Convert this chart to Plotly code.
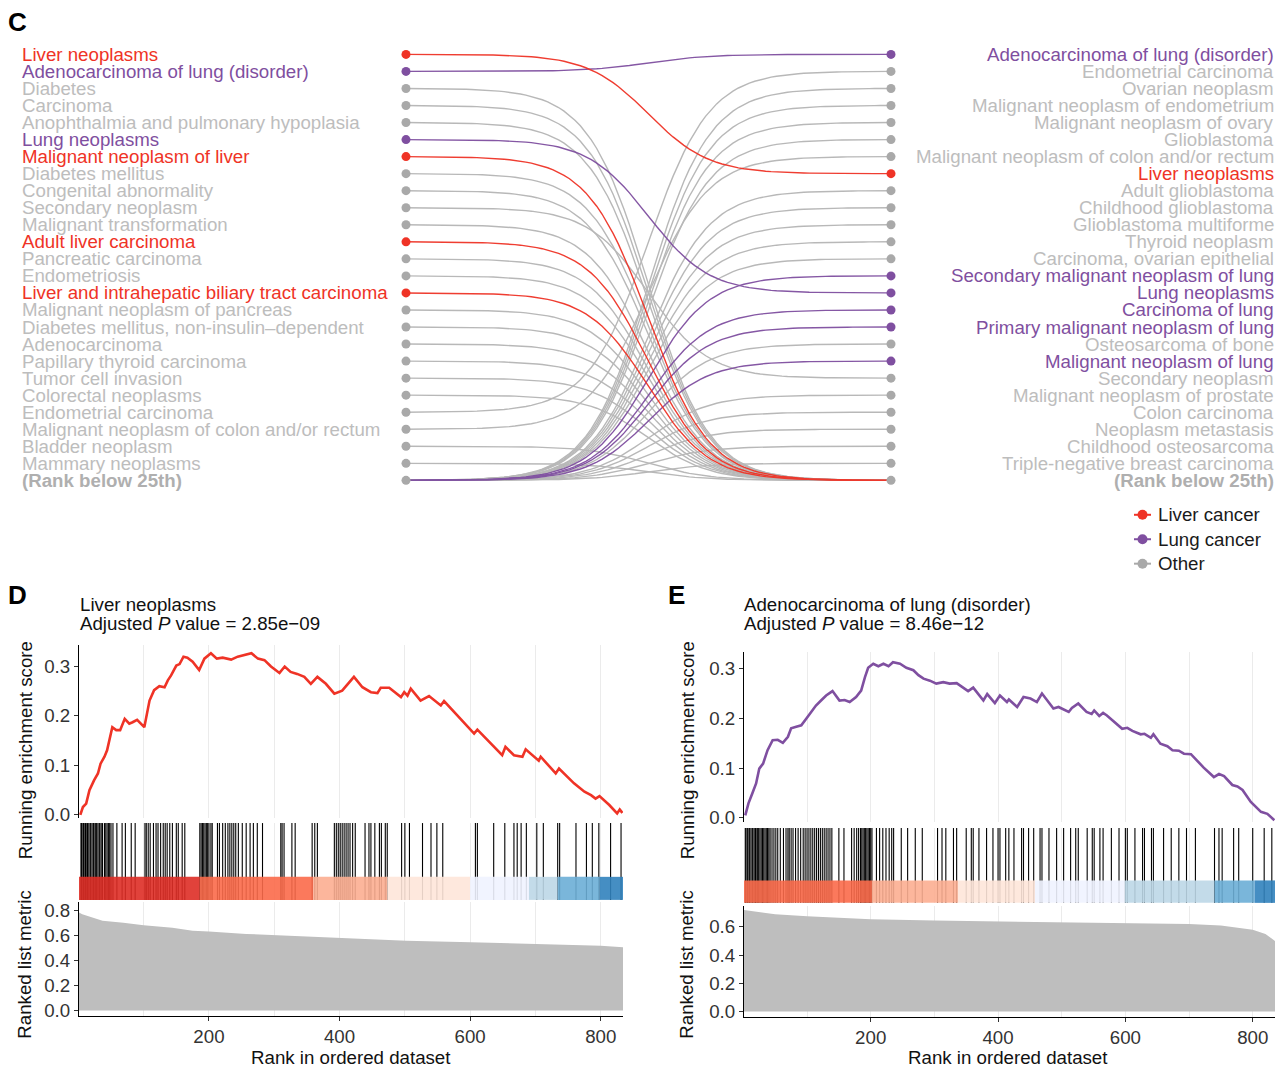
import numpy as np
import plotly.graph_objects as go

W, H = 1283, 1069
HM = 1062.5  # effective vertical mapping (compensates rendering scale)
FONT = "Liberation Sans, Arial, Helvetica, sans-serif"
FS = 18.7

RED = "#EF3326"
PURPLE = "#7F4FA0"
GREY_DOT = "#A9A9A9"
GREY_TXT = "#BDBDBD"
GREY_LINE = "#B5B5B5"
RANK_TXT = "#AFAFAF"

# ---------------- Panel C data ----------------
left_labels = ["Liver neoplasms", "Adenocarcinoma of lung (disorder)", "Diabetes", "Carcinoma",
               "Anophthalmia and pulmonary hypoplasia", "Lung neoplasms", "Malignant neoplasm of liver",
               "Diabetes mellitus", "Congenital abnormality", "Secondary neoplasm",
               "Malignant transformation", "Adult liver carcinoma", "Pancreatic carcinoma",
               "Endometriosis", "Liver and intrahepatic biliary tract carcinoma",
               "Malignant neoplasm of pancreas", "Diabetes mellitus, non-insulin\u2013dependent",
               "Adenocarcinoma", "Papillary thyroid carcinoma", "Tumor cell invasion",
               "Colorectal neoplasms", "Endometrial carcinoma",
               "Malignant neoplasm of colon and/or rectum", "Bladder neoplasm", "Mammary neoplasms",
               "(Rank below 25th)"]
left_groups = ["liver", "lung", "other", "other", "other", "lung", "liver", "other", "other", "other",
               "other", "liver", "other", "other", "liver", "other", "other", "other", "other", "other",
               "other", "other", "other", "other", "other", "rank"]
right_labels = ["Adenocarcinoma of lung (disorder)", "Endometrial carcinoma", "Ovarian neoplasm",
                "Malignant neoplasm of endometrium", "Malignant neoplasm of ovary", "Glioblastoma",
                "Malignant neoplasm of colon and/or rectum", "Liver neoplasms", "Adult glioblastoma",
                "Childhood glioblastoma", "Glioblastoma multiforme", "Thyroid neoplasm",
                "Carcinoma, ovarian epithelial", "Secondary malignant neoplasm of lung",
                "Lung neoplasms", "Carcinoma of lung", "Primary malignant neoplasm of lung",
                "Osteosarcoma of bone", "Malignant neoplasm of lung", "Secondary neoplasm",
                "Malignant neoplasm of prostate", "Colon carcinoma", "Neoplasm metastasis",
                "Childhood osteosarcoma", "Triple-negative breast carcinoma", "(Rank below 25th)"]
right_groups = ["lung", "other", "other", "other", "other", "other", "other", "liver", "other", "other",
                "other", "other", "other", "lung", "lung", "lung", "lung", "other", "lung", "other",
                "other", "other", "other", "other", "other", "rank"]

legend_names = ["Liver cancer", "Lung cancer", "Other"]
legend_groups = ["liver", "lung", "other"]

group_color = {"liver": RED, "lung": PURPLE, "other": GREY_DOT, "rank": GREY_DOT}
group_line = {"liver": RED, "lung": PURPLE, "other": GREY_LINE}
group_text = {"liver": RED, "lung": PURPLE, "other": GREY_TXT, "rank": RANK_TXT}

# ---------------- Panel D data ----------------
D_title = "Liver neoplasms"
D_padj = "2.85e\u221209"
D_N = 834
D_es_rank = [3, 7, 12, 17, 24, 30, 34, 40, 44, 52,
             58, 64, 71, 78, 83, 90, 101, 109, 116, 124,
             132, 137, 142, 150, 155, 161, 167, 175, 185, 193,
             203, 212, 221, 234, 244, 257, 265, 275, 285, 295,
             308, 316, 325, 335, 346, 356, 366, 379, 392, 404,
             422, 435, 448, 458, 463, 476, 494, 499, 504, 509,
             524, 537, 545, 555, 560, 575, 606, 611, 634, 649,
             654, 667, 680, 685, 705, 708, 731, 736, 759, 775,
             785, 792, 798, 813, 825, 829, 833]
D_es_val = [-0.001, 0.015, 0.022, 0.049, 0.069, 0.083, 0.103, 0.117, 0.130, 0.177,
            0.171, 0.171, 0.194, 0.184, 0.187, 0.192, 0.177, 0.231, 0.252, 0.260,
            0.258, 0.272, 0.282, 0.302, 0.305, 0.320, 0.318, 0.310, 0.293, 0.316,
            0.327, 0.316, 0.318, 0.314, 0.320, 0.324, 0.327, 0.316, 0.313, 0.300,
            0.287, 0.300, 0.289, 0.285, 0.279, 0.265, 0.279, 0.265, 0.245, 0.251,
            0.279, 0.258, 0.248, 0.246, 0.257, 0.257, 0.238, 0.248, 0.241, 0.255,
            0.231, 0.240, 0.231, 0.221, 0.230, 0.208, 0.164, 0.172, 0.140, 0.120,
            0.137, 0.120, 0.117, 0.132, 0.109, 0.117, 0.083, 0.093, 0.063, 0.046,
            0.039, 0.032, 0.037, 0.019, 0.002, 0.010, 0.003]
D_hits = [4, 5, 7, 8, 10, 11, 13, 14, 16, 18, 19, 21, 23, 24, 26, 28, 30, 32, 33, 35, 37, 40, 42, 44,
          46, 48, 50, 53, 59, 67, 72, 81, 87, 102, 104, 107, 110, 115, 119, 122, 126, 130, 133, 136,
          140, 144, 150, 153, 159, 163, 186, 188, 190, 192, 194, 196, 198, 200, 203, 205, 213, 216,
          221, 225, 229, 232, 235, 238, 241, 245, 251, 257, 263, 268, 274, 282, 310, 312, 315, 327,
          332, 358, 362, 366, 392, 395, 398, 401, 404, 407, 410, 413, 416, 420, 424, 439, 445, 448,
          454, 461, 464, 470, 473, 495, 500, 507, 527, 540, 549, 558, 608, 611, 636, 653, 667, 672,
          678, 686, 702, 712, 734, 737, 762, 778, 787, 797, 815, 831]
D_bar_edges = [1, 186, 360, 473, 600, 690, 734, 798, 834]
D_bar_colors = ["#DE2D26", "#FB6A4A", "#FCAE91", "#FEE5D9", "#EFF3FF", "#BDD7E7", "#6BAED6", "#3182BD"]
D_rank_x = [1, 6, 37, 69, 100, 144, 175, 200, 257, 320, 402, 502, 601, 702, 800, 834]
D_rank_y = [0.78, 0.766, 0.714, 0.70, 0.68, 0.66, 0.635, 0.63, 0.61, 0.596, 0.577, 0.556, 0.543,
            0.53, 0.517, 0.504]

# ---------------- Panel E data ----------------
E_title = "Adenocarcinoma of lung (disorder)"
E_padj = "8.46e\u221212"
E_N = 835
E_es_rank = [3, 8, 14, 20, 25, 31, 38, 46, 54, 62,
             70, 75, 83, 91, 99, 107, 114, 122, 130, 140,
             151, 159, 167, 177, 185, 191, 196, 204, 212, 220,
             228, 235, 246, 256, 267, 275, 283, 293, 303, 314,
             324, 335, 353, 361, 377, 383, 395, 403, 414, 417,
             430, 440, 451, 461, 469, 487, 495, 511, 516, 526,
             539, 547, 551, 559, 565, 571, 584, 595, 603, 611,
             624, 630, 640, 644, 655, 666, 674, 684, 692, 703,
             723, 739, 747, 755, 768, 776, 784, 797, 813, 823,
             834]
E_es_val = [0.005, 0.029, 0.049, 0.069, 0.099, 0.109, 0.136, 0.156, 0.157, 0.151,
            0.163, 0.180, 0.183, 0.186, 0.200, 0.213, 0.226, 0.236, 0.246, 0.255,
            0.236, 0.237, 0.233, 0.243, 0.256, 0.283, 0.302, 0.310, 0.305, 0.310,
            0.305, 0.313, 0.310, 0.302, 0.297, 0.287, 0.280, 0.276, 0.270, 0.273,
            0.270, 0.271, 0.255, 0.262, 0.236, 0.249, 0.231, 0.246, 0.233, 0.238,
            0.223, 0.243, 0.240, 0.233, 0.250, 0.220, 0.223, 0.213, 0.221, 0.230,
            0.213, 0.209, 0.216, 0.205, 0.211, 0.206, 0.191, 0.179, 0.181, 0.175,
            0.168, 0.169, 0.161, 0.168, 0.149, 0.144, 0.136, 0.135, 0.129, 0.128,
            0.101, 0.082, 0.088, 0.084, 0.066, 0.063, 0.056, 0.032, 0.012, 0.008,
            -0.005]
E_hits = [3, 4, 6, 7, 9, 10, 12, 14, 15, 17, 19, 20, 22, 24, 26, 28, 30, 32, 34, 36, 38, 40, 42, 45,
          48, 51, 54, 58, 63, 67, 70, 72, 75, 78, 82, 86, 90, 94, 97, 100, 103, 106, 109, 112, 115,
          118, 121, 124, 127, 130, 133, 136, 139, 150, 158, 170, 174, 178, 181, 184, 186, 188, 190,
          192, 194, 196, 198, 200, 202, 209, 214, 219, 224, 229, 233, 236, 248, 258, 270, 281, 305,
          312, 318, 330, 335, 350, 358, 361, 370, 382, 392, 400, 403, 412, 417, 425, 437, 440, 448,
          456, 466, 469, 480, 492, 503, 514, 522, 526, 540, 548, 551, 560, 565, 578, 590, 600, 603,
          615, 627, 630, 641, 644, 660, 672, 684, 696, 710, 740, 747, 752, 770, 778, 800, 818, 830]
E_bar_edges = [1, 202, 337, 458, 599, 740, 803, 835]
E_bar_colors = ["#FB6A4A", "#FCAE91", "#FEE5D9", "#EFF3FF", "#BDD7E7", "#6BAED6", "#3182BD"]
E_rank_x = [1, 20, 50, 100, 200, 300, 400, 500, 600, 700, 750, 800, 820, 835]
E_rank_y = [0.72, 0.71, 0.69, 0.675, 0.655, 0.645, 0.64, 0.635, 0.63, 0.62, 0.61, 0.58, 0.55, 0.50]


def py(p):
    return 1 - p / HM


def px(p):
    return p / W


fig = go.Figure()

# ---------------- Panel C: bump chart ----------------
def sigmoid_path(y0, y1, smooth=8, n=90):
    t = np.linspace(-smooth, smooth, n)
    s = 1 / (1 + np.exp(-t))
    s = (s - s.min()) / (s.max() - s.min())
    x = (t + smooth) / (2 * smooth)
    return x, y0 + (y1 - y0) * s


n_rows = len(left_labels)
top_left = left_labels[:-1]
top_right = right_labels[:-1]
connections = []  # (from_rank, to_rank, group)
for i, name in enumerate(top_left):
    to = top_right.index(name) + 1 if name in top_right else n_rows
    connections.append((i + 1, to, left_groups[i]))
for j, name in enumerate(top_right):
    if name not in top_left:
        connections.append((n_rows, j + 1, right_groups[j]))

for g in ["other", "lung", "liver"]:
    xs, ys = [], []
    for a, b, gg in connections:
        if gg != g:
            continue
        x, y = sigmoid_path(a, b)
        xs += list(x) + [None]
        ys += list(y) + [None]
    fig.add_trace(go.Scatter(x=xs, y=ys, mode="lines", xaxis="x", yaxis="y",
                             line=dict(color=group_line[g], width=1.4, shape="linear"),
                             opacity=0.95, showlegend=False, hoverinfo="skip"))

ranks = list(range(1, n_rows + 1))
fig.add_trace(go.Scatter(x=[0] * n_rows, y=ranks, mode="markers", xaxis="x", yaxis="y",
                         marker=dict(size=9, color=[group_color[g] for g in left_groups]),
                         showlegend=False, hoverinfo="skip"))
fig.add_trace(go.Scatter(x=[1] * n_rows, y=ranks, mode="markers", xaxis="x", yaxis="y",
                         marker=dict(size=9, color=[group_color[g] for g in right_groups]),
                         showlegend=False, hoverinfo="skip"))

annotations = []
for i, (lab, g) in enumerate(zip(left_labels, left_groups)):
    txt = "<b>%s</b>" % lab if g == "rank" else lab
    annotations.append(dict(text=txt, x=px(20), xref="paper", y=i + 1, yref="y",
                            xanchor="left", yanchor="middle", showarrow=False,
                            font=dict(family=FONT, size=FS, color=group_text[g])))
for i, (lab, g) in enumerate(zip(right_labels, right_groups)):
    txt = "<b>%s</b>" % lab if g == "rank" else lab
    annotations.append(dict(text=txt, x=px(1276), xref="paper", y=i + 1, yref="y",
                            xanchor="right", yanchor="middle", showarrow=False,
                            font=dict(family=FONT, size=FS, color=group_text[g])))

# manual legend (key: short line + dot, then label)
shapes = []
for k, (name, g) in enumerate(zip(legend_names, legend_groups)):
    yc = 514 + 24.5 * k
    col = group_color[g]
    shapes.append(dict(type="line", xref="paper", yref="paper", x0=px(1134), x1=px(1151),
                       y0=py(yc), y1=py(yc), line=dict(color=col, width=2)))
    shapes.append(dict(type="circle", xref="paper", yref="paper", x0=px(1137.5), x1=px(1147.5),
                       y0=py(yc - 5), y1=py(yc + 5), fillcolor=col, line=dict(width=0)))
    annotations.append(dict(text=name, x=px(1156), y=py(yc), xref="paper", yref="paper",
                            xanchor="left", yanchor="middle", showarrow=False,
                            font=dict(family=FONT, size=FS, color="#1a1a1a")))


# ---------------- GSEA panels ----------------
def gsea_panel(ax_ids, es_rank, es_val, color, hits, edges, colors, rank_x, rank_y):
    xa, xb, xc = ax_ids
    # running ES
    fig.add_trace(go.Scatter(x=es_rank, y=es_val, mode="lines", xaxis="x%d" % xa, yaxis="y%d" % xa,
                             line=dict(color=color, width=2.6), showlegend=False, hoverinfo="skip"))
    # hits
    hx, hy = [], []
    for h in hits:
        hx += [h, h, None]
        hy += [0, 1, None]
    fig.add_trace(go.Scatter(x=hx, y=hy, mode="lines", xaxis="x%d" % xb, yaxis="y%d" % xb,
                             line=dict(color="black", width=1.1), showlegend=False, hoverinfo="skip"))
    # colour bar
    for k, c in enumerate(colors):
        x0, x1 = edges[k], edges[k + 1]
        rgb = tuple(int(c[i:i + 2], 16) for i in (1, 3, 5))
        fig.add_trace(go.Scatter(x=[x0, x1, x1, x0, x0], y=[0, 0, 0.3, 0.3, 0], mode="lines",
                                 fill="toself", fillcolor="rgba(%d,%d,%d,0.9)" % rgb,
                                 line=dict(width=0, color="rgba(0,0,0,0)"),
                                 xaxis="x%d" % xb, yaxis="y%d" % xb, showlegend=False,
                                 hoverinfo="skip"))
    # ranked list metric
    fig.add_trace(go.Scatter(x=rank_x, y=rank_y, mode="lines", fill="tozeroy",
                             fillcolor="#BEBEBE", line=dict(width=0, color="#BEBEBE"),
                             xaxis="x%d" % xc, yaxis="y%d" % xc, showlegend=False, hoverinfo="skip"))


gsea_panel((2, 3, 4), D_es_rank, D_es_val, RED, D_hits, D_bar_edges, D_bar_colors, D_rank_x, D_rank_y)
gsea_panel((5, 6, 7), E_es_rank, E_es_val, PURPLE, E_hits, E_bar_edges, E_bar_colors, E_rank_x, E_rank_y)

grid_col = "#EBEBEB"
tickfont = dict(family=FONT, size=FS, color="#333333")


def xgrid(domain, N, anchor, labels=False):
    d = dict(domain=domain, range=[1, N], anchor=anchor, showgrid=True, gridcolor=grid_col,
             gridwidth=1, tick0=0, dtick=100, zeroline=False, showticklabels=False, ticks="",
             showline=False, fixedrange=True)
    if labels:
        d.update(dict(dtick=200, showticklabels=True, ticks="outside", ticklen=4, tickwidth=1,
                      tickcolor="#333333", showline=True, linecolor="black", linewidth=1.2,
                      tickfont=tickfont,
                      minor=dict(tick0=0, dtick=100, showgrid=True, gridcolor=grid_col, ticks="")))
    return d


def yax(domain, rng, anchor, dtick):
    return dict(domain=domain, range=rng, anchor=anchor, showgrid=False, zeroline=False,
                tick0=0, dtick=dtick, tickformat=".1f", ticks="outside", ticklen=4, tickwidth=1,
                tickcolor="#333333", showline=True, linecolor="black", linewidth=1.2,
                tickfont=tickfont, fixedrange=True)


Dx = [px(79), px(623)]
Ex = [px(744), px(1275)]

layout_axes = dict(
    xaxis=dict(domain=[0, 1], range=[-406 / 485, (W - 406) / 485], visible=False, fixedrange=True),
    yaxis=dict(domain=[0, 1], range=[1 + (HM - 52.5) / 17.08, 1 - 52.5 / 17.08], visible=False,
               fixedrange=True),
    xaxis2=xgrid(Dx, D_N, "y2"),
    yaxis2=yax([py(818), py(645)], [(814.3 - 818) / 494, (814.3 - 645) / 494], "x2", 0.1),
    xaxis3=xgrid(Dx, D_N, "y3"),
    yaxis3=dict(domain=[py(900), py(823)], range=[0, 1], anchor="x3", visible=False, fixedrange=True),
    xaxis4=xgrid(Dx, D_N, "y4", labels=True),
    yaxis4=yax([py(1016), py(902)], [(1011 - 1016) / 126, (1011 - 902) / 126], "x4", 0.2),
    xaxis5=xgrid(Ex, E_N, "y5"),
    yaxis5=yax([py(822), py(652)], [(817.7 - 822) / 498, (817.7 - 652) / 498], "x5", 0.1),
    xaxis6=xgrid(Ex, E_N, "y6"),
    yaxis6=dict(domain=[py(903), py(828)], range=[0, 1], anchor="x6", visible=False, fixedrange=True),
    xaxis7=xgrid(Ex, E_N, "y7", labels=True),
    yaxis7=yax([py(1017), py(906)], [(1012 - 1017) / 141.5, (1012 - 906) / 141.5], "x7", 0.2),
)


def ann(text, x, y, size=FS, color="black", xanchor="left", angle=0, bold=False):
    if bold:
        text = "<b>%s</b>" % text
    return dict(text=text, x=px(x), y=py(y), xref="paper", yref="paper", xanchor=xanchor,
                yanchor="middle", showarrow=False, textangle=angle,
                font=dict(family=FONT, size=size, color=color))


annotations += [
    ann("C", 6, 20, size=26, bold=True),
    ann("D", 6, 594, size=26, bold=True),
    ann("E", 666, 594, size=26, bold=True),
    ann(D_title, 78, 604, color="#111111"),
    ann("Adjusted <i>P</i> value = " + D_padj, 78, 623, color="#111111"),
    ann(E_title, 742, 604, color="#111111"),
    ann("Adjusted <i>P</i> value = " + E_padj, 742, 623, color="#111111"),
    ann("Running enrichment score", 25, 750, xanchor="center", angle=-90, color="#111111"),
    ann("Ranked list metric", 25, 965, xanchor="center", angle=-90, color="#111111"),
    ann("Running enrichment score", 687, 750, xanchor="center", angle=-90, color="#111111"),
    ann("Ranked list metric", 687, 965, xanchor="center", angle=-90, color="#111111"),
    ann("Rank in ordered dataset", 351, 1058, xanchor="center", color="#111111"),
    ann("Rank in ordered dataset", 1008, 1058, xanchor="center", color="#111111"),
]

fig.update_layout(
    width=W, height=H, margin=dict(l=0, r=0, t=0, b=0),
    paper_bgcolor="white", plot_bgcolor="rgba(0,0,0,0)",
    font=dict(family=FONT, size=FS, color="#222222"),
    annotations=annotations,
    shapes=shapes,
    showlegend=False,
    **layout_axes,
)

fig.write_html("out.html")
